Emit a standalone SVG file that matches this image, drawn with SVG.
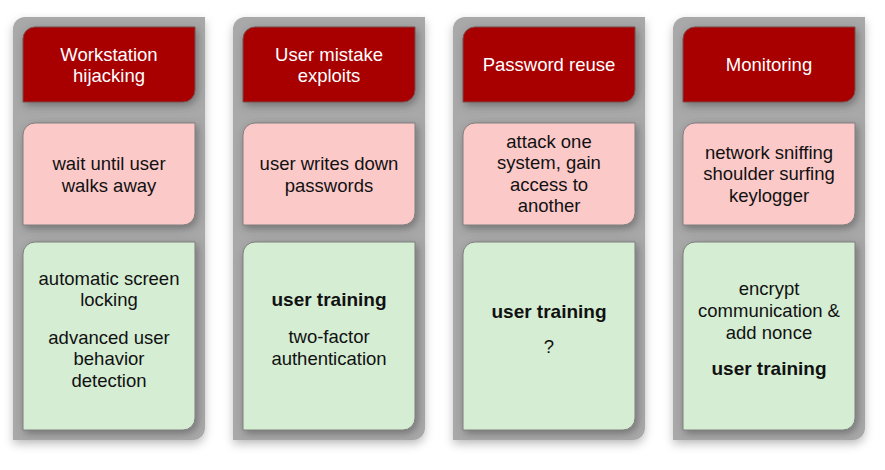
<svg xmlns="http://www.w3.org/2000/svg" width="885" height="470" viewBox="0 0 885 470">
<style>
text{font-family:"Liberation Sans",Arial,Helvetica,sans-serif;font-size:18.5px;text-anchor:middle}
.hd text{fill:#ffffff}
.bx text{fill:#111111}
.b{font-weight:bold;font-size:19px}
.panel{fill:#a9a9a9;filter:url(#ps)}
.red{fill:#a80000;stroke:#7a5050;stroke-width:1;filter:url(#bs)}
.pink{fill:#fcc9c9;stroke:#7f7f7f;stroke-width:1;filter:url(#bs)}
.green{fill:#d4edd3;stroke:#7f7f7f;stroke-width:1;filter:url(#bs)}
</style>
<defs>
<filter id="ps" x="-20%" y="-10%" width="140%" height="120%">
<feDropShadow dx="0" dy="4" stdDeviation="5" flood-color="#000" flood-opacity="0.25"/>
</filter>
<filter id="bs" x="-20%" y="-20%" width="140%" height="140%">
<feDropShadow dx="2" dy="3" stdDeviation="4" flood-color="#444" flood-opacity="0.55"/>
</filter>
<path id="pn" d="M25,17 H205 V428 A12,12 0 0 1 193,440 H13 V29 A12,12 0 0 1 25,17 Z"/>
<path id="hd" d="M35,27 H195 V90 A12,12 0 0 1 183,102 H23 V39 A12,12 0 0 1 35,27 Z"/>
<path id="pk" d="M35,123 H195 V213 A12,12 0 0 1 183,225 H23 V135 A12,12 0 0 1 35,123 Z"/>
<path id="gr" d="M35,242 H195 V418 A12,12 0 0 1 183,430 H23 V254 A12,12 0 0 1 35,242 Z"/>
</defs>
<rect width="885" height="470" fill="#ffffff"/>

<g id="col1">
<use href="#pn" class="panel"/>
<g id="h1" class="hd"><use href="#hd" class="red"/><text x="109" y="61">Workstation</text><text x="109" y="82">hijacking</text></g>
<g id="p1" class="bx"><use href="#pk" class="pink"/><text x="109" y="170">wait until user</text><text x="109" y="192">walks away</text></g>
<g id="g1" class="bx"><use href="#gr" class="green"/><text x="109" y="285">automatic screen</text><text x="109" y="306">locking</text><text x="109" y="344">advanced user</text><text x="109" y="365">behavior</text><text x="109" y="387">detection</text></g>
</g>

<g id="col2" transform="translate(220,0)">
<use href="#pn" class="panel"/>
<g id="h2" class="hd"><use href="#hd" class="red"/><text x="109" y="61">User mistake</text><text x="109" y="82">exploits</text></g>
<g id="p2" class="bx"><use href="#pk" class="pink"/><text x="109" y="170">user writes down</text><text x="109" y="192">passwords</text></g>
<g id="g2" class="bx"><use href="#gr" class="green"/><text class="b" x="109" y="306">user training</text><text x="109" y="343">two-factor</text><text x="109" y="365">authentication</text></g>
</g>

<g id="col3" transform="translate(440,0)">
<use href="#pn" class="panel"/>
<g id="h3" class="hd"><use href="#hd" class="red"/><text x="109" y="71">Password reuse</text></g>
<g id="p3" class="bx"><use href="#pk" class="pink"/><text x="109" y="148">attack one</text><text x="109" y="169">system, gain</text><text x="109" y="191">access to</text><text x="109" y="212">another</text></g>
<g id="g3" class="bx"><use href="#gr" class="green"/><text class="b" x="109" y="318">user training</text><text x="109" y="353">?</text></g>
</g>

<g id="col4" transform="translate(660,0)">
<use href="#pn" class="panel"/>
<g id="h4" class="hd"><use href="#hd" class="red"/><text x="109" y="71">Monitoring</text></g>
<g id="p4" class="bx"><use href="#pk" class="pink"/><text x="109" y="159">network sniffing</text><text x="109" y="180">shoulder surfing</text><text x="109" y="202">keylogger</text></g>
<g id="g4" class="bx"><use href="#gr" class="green"/><text x="109" y="295">encrypt</text><text x="109" y="317">communication &amp;</text><text x="109" y="339">add nonce</text><text class="b" x="109" y="375">user training</text></g>
</g>

<g id="connectors"/>
</svg>
